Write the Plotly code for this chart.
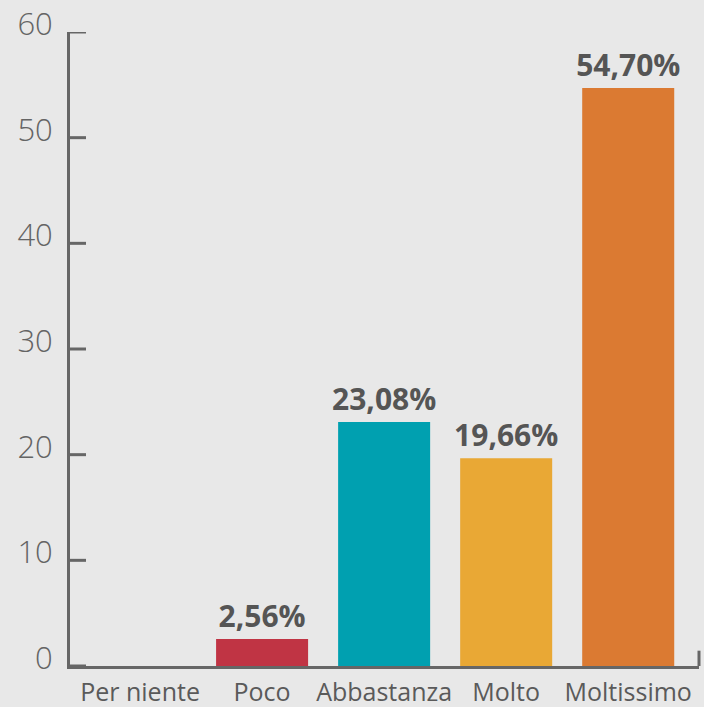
import plotly.graph_objects as go

categories = ["Per niente", "Poco", "Abbastanza", "Molto", "Moltissimo"]
values = [0, 2.56, 23.08, 19.66, 54.70]
labels = ["", "2,56%", "23,08%", "19,66%", "54,70%"]
colors = ["#c03444", "#c03444", "#00a0b0", "#e9a835", "#db7a32"]
y_ticks = [0, 10, 20, 30, 40, 50, 60]

FONT = "'Open Sans', sans-serif"
AXIS_COL = "#666666"
PLOT_W = 704 - 70 - 5

fig = go.Figure(go.Bar(
    x=list(range(len(categories))), y=values,
    marker=dict(color=colors, line=dict(width=0)),
    width=0.754,
    text=labels, textposition="outside", constraintext="none",
    textfont=dict(family=FONT, size=30, color="#555555", weight="bold"),
    cliponaxis=False,
))

shapes = [dict(type="line", xref="paper", yref="y", x0=0, x1=16 / PLOT_W, y0=t, y1=t,
               line=dict(color=AXIS_COL, width=3)) for t in y_ticks]
shapes.append(dict(type="line", xref="paper", yref="y", x0=1, x1=1, y0=0, y1=1.45,
                   line=dict(color=AXIS_COL, width=3)))

fig.update_layout(
    width=704, height=707,
    margin=dict(l=70, r=5, t=32, b=41),
    paper_bgcolor="#e8e8e8", plot_bgcolor="#e8e8e8",
    showlegend=False,
    xaxis=dict(
        tickmode="array", tickvals=list(range(len(categories))), ticktext=categories,
        range=[-0.574, 4.58], showgrid=False, zeroline=False, automargin=False,
        showline=True, linecolor=AXIS_COL, linewidth=3, ticks="",
        tickfont=dict(family=FONT, size=25, color="#5a5a5a"),
        ticklabelstandoff=2,
    ),
    yaxis=dict(
        range=[0, 60], tickvals=y_ticks, showgrid=False, zeroline=False, automargin=False,
        showline=True, linecolor=AXIS_COL, linewidth=3, ticks="",
        tickfont=dict(family=FONT, size=31, color="#646464", weight=300),
        ticklabelshift=-8, ticklabelstandoff=8,
    ),
    shapes=shapes,
)

fig.write_html("out.html")
